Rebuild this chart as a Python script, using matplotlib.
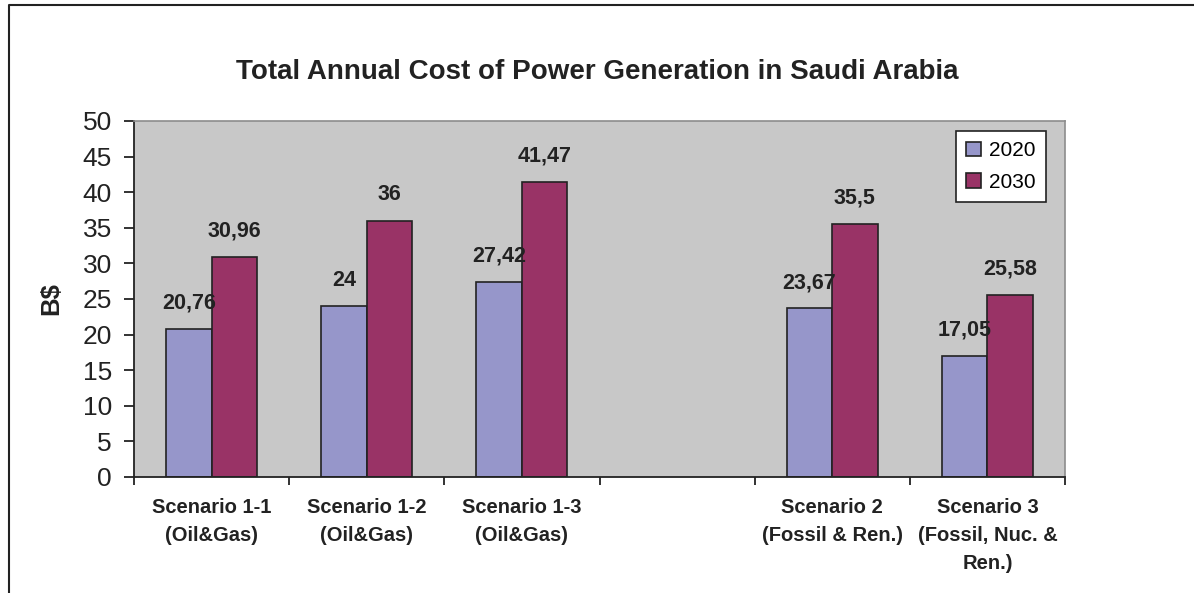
import matplotlib
matplotlib.use("Agg")
import matplotlib.pyplot as plt
import numpy as np
from matplotlib.lines import Line2D

plt.rcParams['font.family'] = ['Liberation Sans', 'DejaVu Sans']

categories = ["Scenario 1-1\n(Oil&Gas)", "Scenario 1-2\n(Oil&Gas)", "Scenario 1-3\n(Oil&Gas)", "",
              "Scenario 2\n(Fossil & Ren.)", "Scenario 3\n(Fossil, Nuc. &\nRen.)"]
values_2020 = [20.76, 24, 27.42, np.nan, 23.67, 17.05]
values_2030 = [30.96, 36, 41.47, np.nan, 35.5, 25.58]
labels_2020 = ["20,76", "24", "27,42", "", "23,67", "17,05"]
labels_2030 = ["30,96", "36", "41,47", "", "35,5", "25,58"]
series_names = ["2020", "2030"]
yticks = [0, 5, 10, 15, 20, 25, 30, 35, 40, 45, 50]

W, H = 1194, 593
fig = plt.figure(figsize=(W/100, H/100), dpi=100)
ax = fig.add_axes([134/W, 1-477/H, (1065-134)/W, (477-121)/H])
ax.set_facecolor('#C8C8C8')

x = np.arange(len(categories))
w = 0.293
c2020 = '#9696CA'
c2030 = '#993366'
ax.bar(x - w/2, values_2020, w, color=c2020, edgecolor='#222222', linewidth=1.2, label=series_names[0])
ax.bar(x + w/2, values_2030, w, color=c2030, edgecolor='#222222', linewidth=1.2, label=series_names[1])

for xi, v, t in zip(x - w/2, values_2020, labels_2020):
    if not np.isnan(v):
        ax.annotate(t, (xi, v), xytext=(0, 11), textcoords='offset points', ha='center', va='bottom',
                    fontsize=15.5, fontweight='bold', color='#222222')
for xi, v, t in zip(x + w/2, values_2030, labels_2030):
    if not np.isnan(v):
        ax.annotate(t, (xi, v), xytext=(0, 11), textcoords='offset points', ha='center', va='bottom',
                    fontsize=15.5, fontweight='bold', color='#222222')

ax.set_xlim(-0.5, len(categories) - 0.5)
ax.set_ylim(0, 50)
ax.set_yticks(yticks)
ax.tick_params(axis='y', labelsize=19, length=7, width=1.3, direction='out', pad=9, colors='#222222')
ax.set_xticks(x)
ax.set_xticklabels(categories, fontsize=14.5, fontweight='bold', color='#222222', linespacing=1.62)
ax.tick_params(axis='x', which='major', length=0, pad=15)
ax.set_xticks(np.arange(len(categories) + 1) - 0.5, minor=True)
ax.tick_params(axis='x', which='minor', length=6, width=1.3, direction='out', colors='#222222')

for s in ['left', 'bottom']:
    ax.spines[s].set_color('#222222')
    ax.spines[s].set_linewidth(1.3)
for s in ['top', 'right']:
    ax.spines[s].set_color('#8C8C8C')
    ax.spines[s].set_linewidth(1.2)

ax.set_ylabel("B$", fontsize=18.5, fontweight='bold', color='#222222', labelpad=14)

leg = ax.legend(loc='upper right', bbox_to_anchor=(1.0 - 19/931, 1 - 10/356),
                fontsize=15, frameon=True, fancybox=False, edgecolor='#222222', framealpha=1,
                handlelength=0.7, handleheight=0.7, handletextpad=0.4, borderpad=0.5, labelspacing=0.6,
                borderaxespad=0)
leg.get_frame().set_linewidth(1.2)

fig.text(0.5, 1-72/H, "Total Annual Cost of Power Generation in Saudi Arabia", ha='center', va='center',
         fontsize=20, fontweight='bold', color='#222222')

fig.add_artist(Line2D([9/W, 9/W, 1.0], [0, 1-5/H, 1-5/H], transform=fig.transFigure,
                      color='#222222', linewidth=1.5))

fig.savefig("out.png", dpi=100)
